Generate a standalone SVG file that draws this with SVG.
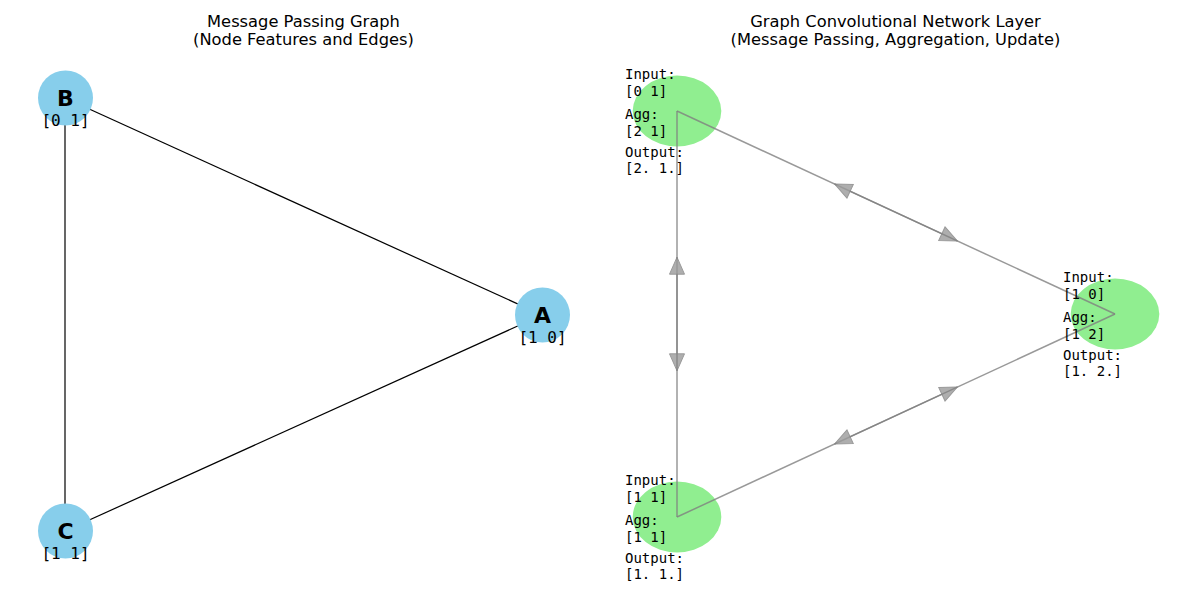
<svg xmlns="http://www.w3.org/2000/svg" width="1200" height="600" viewBox="0 0 1200 600">
<style>
.title{font-family:"DejaVu Sans",sans-serif;font-size:16.3px;fill:#000;text-anchor:middle}
.ncirc{fill:#87CEEB}
.nlab{font-family:"DejaVu Sans",sans-serif;font-size:22px;font-weight:bold;fill:#000;text-anchor:middle}
.feat{font-family:"DejaVu Sans Mono",monospace;font-size:14px;fill:#000}
.lfeat{font-family:"DejaVu Sans Mono",monospace;font-size:16px;fill:#000;text-anchor:middle}
.gell{fill:#90EE90}
.edge{stroke:#000;stroke-width:1.2;fill:none}
.dedge{stroke:#808080;stroke-width:1.5;fill:none;marker-end:url(#arr)}
.dgrp{opacity:0.8}
</style>
<defs>
<marker id="arr" markerUnits="userSpaceOnUse" markerWidth="20" markerHeight="18" refX="17" refY="7.5" orient="auto" viewBox="-1 -1 20 18">
<polygon points="0,0 17,7.5 0,15" fill="#9a9a9a" stroke="#808080" stroke-width="1"/>
</marker>
</defs>
<text class="title" x="303.5" y="27">Message Passing Graph</text>
<text class="title" x="303.5" y="45">(Node Features and Edges)</text>
<text class="title" x="895.5" y="27">Graph Convolutional Network Layer</text>
<text class="title" x="895.5" y="45">(Message Passing, Aggregation, Update)</text>

<g id="connectors">
<g id="left-edges">
<line class="edge" x1="65" y1="98" x2="542" y2="315"/>
<line class="edge" x1="65" y1="98" x2="65" y2="531"/>
<line class="edge" x1="65" y1="531" x2="542" y2="315"/>
</g>
</g>

<g id="node-A"><circle class="ncirc" cx="542.5" cy="315" r="27.5"/><text class="nlab" x="542.5" y="322.5">A</text><text class="lfeat" x="542.5" y="343.3">[1 0]</text></g>
<g id="node-B"><circle class="ncirc" cx="65.5" cy="98" r="27.5"/><text class="nlab" x="65.5" y="105.5">B</text><text class="lfeat" x="65.5" y="126.3">[0 1]</text></g>
<g id="node-C"><circle class="ncirc" cx="65.5" cy="531" r="27.5"/><text class="nlab" x="65.5" y="538.5">C</text><text class="lfeat" x="65.5" y="559.3">[1 1]</text></g>

<g id="gcn-B"><ellipse class="gell" cx="677" cy="111" rx="44.3" ry="35.5"/></g>
<g id="gcn-A"><ellipse class="gell" cx="1115" cy="314" rx="44.3" ry="35.5"/></g>
<g id="gcn-C"><ellipse class="gell" cx="677" cy="517" rx="44.3" ry="35.5"/></g>

<g id="gcn-connectors">
<g class="dgrp"><line class="dedge" x1="677" y1="111" x2="957.3" y2="240.9"/></g>
<g class="dgrp"><line class="dedge" x1="1115" y1="314" x2="834.7" y2="184.1"/></g>
<g class="dgrp"><line class="dedge" x1="677" y1="111" x2="677" y2="370.8"/></g>
<g class="dgrp"><line class="dedge" x1="677" y1="517" x2="677" y2="257.2"/></g>
<g class="dgrp"><line class="dedge" x1="677" y1="517" x2="957.3" y2="387.1"/></g>
<g class="dgrp"><line class="dedge" x1="1115" y1="314" x2="834.7" y2="443.9"/></g>
</g>

<g id="gcn-B-text" class="feat">
<text x="625" y="79.3">Input:</text><text x="625" y="95.5">[0 1]</text>
<text x="625" y="119.3">Agg:</text><text x="625" y="135.5">[2 1]</text>
<text x="625" y="157.3">Output:</text><text x="625" y="173.3">[2. 1.]</text>
</g>
<g id="gcn-A-text" class="feat">
<text x="1063" y="282.3">Input:</text><text x="1063" y="298.5">[1 0]</text>
<text x="1063" y="322.3">Agg:</text><text x="1063" y="338.5">[1 2]</text>
<text x="1063" y="360.3">Output:</text><text x="1063" y="376.3">[1. 2.]</text>
</g>
<g id="gcn-C-text" class="feat">
<text x="625" y="485.3">Input:</text><text x="625" y="501.5">[1 1]</text>
<text x="625" y="525.3">Agg:</text><text x="625" y="541.5">[1 1]</text>
<text x="625" y="563.3">Output:</text><text x="625" y="579.3">[1. 1.]</text>
</g>
</svg>
